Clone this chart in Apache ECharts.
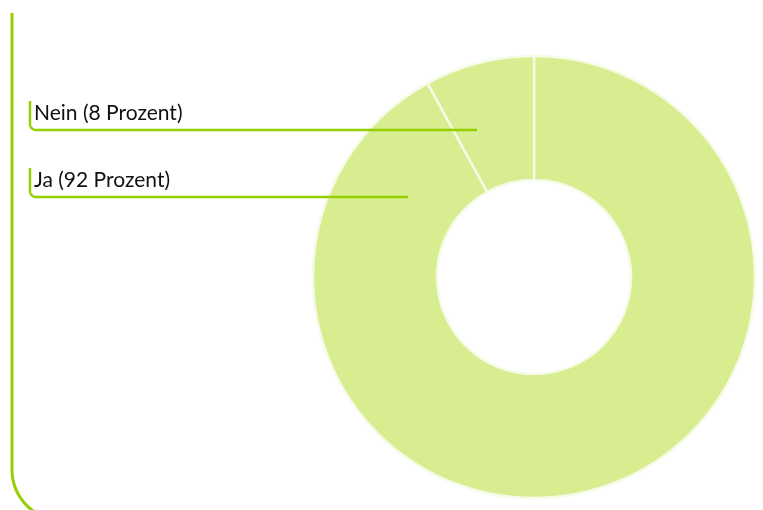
<!DOCTYPE html>
<html>
<head>
<meta charset="utf-8">
<script src="https://cdn.jsdelivr.net/npm/echarts@6/dist/echarts.min.js"></script>
<style>
html,body{margin:0;padding:0;background:#fff;}
#chart{width:763px;height:510px;}
</style>
</head>
<body>
<div id="chart"></div>
<script>
// Answer categories and their shares in percent
const categories = ['Ja', 'Nein'];
const shares = [92, 8];
const labelTexts = ['Ja (92 Prozent)', 'Nein (8 Prozent)'];

const ACCENT = '#94d000';
const FILL = '#d7ed8f';

const chart = echarts.init(document.getElementById('chart'), null, {renderer: 'canvas'});

// Label rows on the left: y of text centre, y of underline, x where underline ends
const labelRows = {
  Nein: {textY: 113, lineY: 130, endX: 477},
  Ja:   {textY: 180, lineY: 197, endX: 408}
};

// Quarter-circle points from the left side of a circle down to its bottom
function cornerPoints(cx, cy, r) {
  const pts = [];
  for (let i = 0; i <= 24; i++) {
    const a = Math.PI - (Math.PI / 2) * (i / 24);
    pts.push([cx + r * Math.cos(a), cy + r * Math.sin(a)]);
  }
  return pts;
}

function bracket(row) {
  const x = 30, top = row.lineY - 29, r = 6;
  const pts = [[x, top]].concat(cornerPoints(x + r, row.lineY - r, r), [[row.endX, row.lineY]]);
  return {
    type: 'polyline',
    shape: {points: pts},
    style: {stroke: ACCENT, lineWidth: 2.5, fill: null},
    z: 100
  };
}

const framePts = [[12, 13]].concat(cornerPoints(62, 470, 50));

chart.setOption({
  animation: false,
  graphic: [
    {
      type: 'polyline',
      shape: {points: framePts},
      style: {stroke: ACCENT, lineWidth: 3, fill: null}
    },
    bracket(labelRows.Nein),
    bracket(labelRows.Ja)
  ],
  series: [{
    type: 'pie',
    center: [534, 277],
    radius: [97, 221],
    startAngle: 90,
    clockwise: true,
    avoidLabelOverlap: false,
    itemStyle: {color: FILL, borderColor: '#f5fbe6', borderWidth: 2.5},
    emphasis: {disabled: true},
    label: {
      show: true,
      position: 'outside',
      formatter: p => labelTexts[p.dataIndex],
      color: '#111',
      fontFamily: 'Lato',
      fontSize: 21
    },
    labelLine: {show: false},
    labelLayout: function (params) {
      const name = categories[params.dataIndex];
      return {
        x: 34,
        y: labelRows[name].textY,
        align: 'left',
        verticalAlign: 'middle'
      };
    },
    data: categories.map((c, i) => ({name: c, value: shares[i]}))
  }]
});
</script>
</body>
</html>
